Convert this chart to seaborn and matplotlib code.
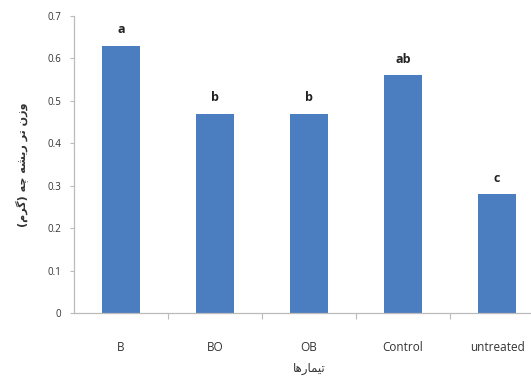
import numpy as np
import pandas as pd
import matplotlib
matplotlib.use('Agg')
import matplotlib.pyplot as plt
import seaborn as sns

# data
treatments = ['B', 'BO', 'OB', 'Control', 'untreated']
weights = [0.63, 0.47, 0.47, 0.56, 0.28]
letters = ['a', 'b', 'b', 'ab', 'c']

y_label = 'وزن تر ریشه چه (گرم)'
x_label = 'تیمارها'

# minimal Persian shaping (matplotlib does no Arabic joining / bidi)
FORMS = {
    'و': ('\ufeed', '\ufeee', None, None),
    'ز': ('\ufeaf', '\ufeb0', None, None),
    'ر': ('\ufead', '\ufeae', None, None),
    'ا': ('\ufe8d', '\ufe8e', None, None),
    'ن': ('\ufee5', '\ufee6', '\ufee7', '\ufee8'),
    'ت': ('\ufe95', '\ufe96', '\ufe97', '\ufe98'),
    'ی': ('\ufbfc', '\ufbfd', '\ufbfe', '\ufbff'),
    'ش': ('\ufeb5', '\ufeb6', '\ufeb7', '\ufeb8'),
    'ه': ('\ufee9', '\ufeea', '\ufeeb', '\ufeec'),
    'چ': ('\ufb7a', '\ufb7b', '\ufb7c', '\ufb7d'),
    'گ': ('\ufb92', '\ufb93', '\ufb94', '\ufb95'),
    'م': ('\ufee1', '\ufee2', '\ufee3', '\ufee4'),
}
MIRROR = {'(': ')', ')': '('}


def shape(text):
    out = []
    for i, ch in enumerate(text):
        if ch not in FORMS:
            out.append(MIRROR.get(ch, ch))
            continue
        prev = text[i - 1] if i > 0 else ''
        nxt = text[i + 1] if i + 1 < len(text) else ''
        join_prev = prev in FORMS and FORMS[prev][2] is not None
        join_next = nxt in FORMS and FORMS[ch][2] is not None
        iso, fin, ini, med = FORMS[ch]
        if join_prev and join_next:
            out.append(med)
        elif join_prev:
            out.append(fin)
        elif join_next:
            out.append(ini)
        else:
            out.append(iso)
    return ''.join(reversed(out))


df = pd.DataFrame({'treatment': treatments, 'weight': weights})

sns.set_style('white')
plt.rcParams['font.family'] = ['Open Sans', 'DejaVu Sans']

fig = plt.figure(figsize=(5.31, 3.81), dpi=100)
ax = fig.add_axes([0.1395, 0.1785, 0.885, 0.7795])

sns.barplot(data=df, x='treatment', y='weight', color='#4a7ec0',
            saturation=1, width=0.4, linewidth=0, ax=ax)

for i, (v, lab) in enumerate(zip(weights, letters)):
    ax.text(i, v + 0.022, lab, ha='center', va='bottom',
            fontsize=9, fontweight='bold', color='#222222')

ax.set_xlim(-0.5, 4.5)
ax.set_ylim(0, 0.7)
ax.set_yticks(np.arange(0, 0.71, 0.1))
ax.set_yticklabels(['0'] + [f'{t:.1f}' for t in np.arange(0.1, 0.71, 0.1)])
ax.set_xticks(np.arange(0.5, 4, 1), minor=True)

ax.tick_params(axis='y', which='major', length=3, width=0.8, color='#bbbbbb',
               labelsize=7, labelcolor='#333333', left=True, pad=6)
ax.tick_params(axis='x', which='major', length=0, labelsize=8.5,
               labelcolor='#333333', pad=20)
ax.tick_params(axis='x', which='minor', length=4, width=0.8, color='#bbbbbb',
               bottom=True)

for s in ['top', 'right']:
    ax.spines[s].set_visible(False)
for s in ['left', 'bottom']:
    ax.spines[s].set_color('#bbbbbb')
    ax.spines[s].set_linewidth(0.9)

ax.set_xlabel(shape(x_label), fontsize=8.5, color='#333333', labelpad=6,
              family=['DejaVu Sans'])
ax.set_ylabel(shape(y_label), fontsize=8, color='#333333', labelpad=14,
              family=['DejaVu Sans'], fontweight='bold')

fig.savefig('out.png', dpi=100)
